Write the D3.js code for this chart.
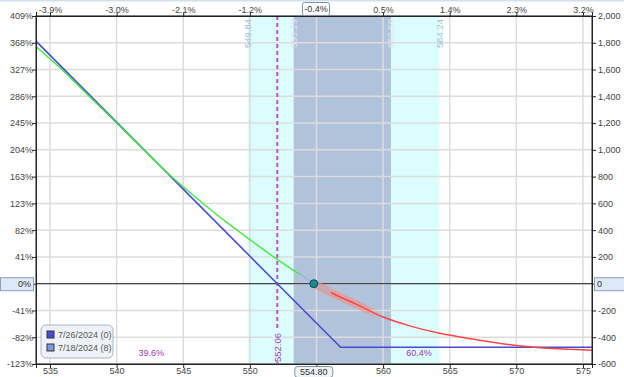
<!DOCTYPE html>
<html>
<head>
  <meta charset="utf-8">
  <script src="https://cdn.jsdelivr.net/npm/d3@7"></script>
  <title>P&amp;L chart</title>
  <style>
    body { margin: 0; background: #fff; }
    text { font-family: "Liberation Sans", Arial, sans-serif; font-size: 9px; fill: #444; }
  </style>
</head>
<body>
<svg id="chart" width="624" height="377"></svg>
<script>
// ---- data ----
var priceTicks = [535, 540, 545, 550, 555, 560, 565, 570, 575];
var pctMoveLabels = ["-3.9%", "-3.0%", "-2.1%", "-1.2%", "-0.4%", "0.5%", "1.4%", "2.3%", "3.2%"];
var pnlTicks = [-600, -400, -200, 0, 200, 400, 600, 800, 1000, 1200, 1400, 1600, 1800, 2000];
var pnlLabels = ["-600", "-400", "-200", "0", "200", "400", "600", "800", "1,000", "1,200", "1,400", "1,600", "1,800", "2,000"];
var pctLabels = ["-123%", "-82%", "-41%", "0%", "41%", "82%", "123%", "163%", "204%", "245%", "286%", "327%", "368%", "409%"];

// expiration (7/26/2024)
var expiryPrice = [533.95, 552.06, 556.81, 575.68];
var expiryPnl = [1812, 0, -475, -475];

// today (7/18/2024), left part (green) and right part (red)
var todayPrice = [533.95, 536, 538, 540, 542, 544, 546, 548, 550, 552, 553, 554, 554.8];
var todayPnl = [1772, 1590, 1395, 1200, 1004, 812, 640, 478, 330, 185, 118, 55, 0];
var rightPrice = [554.8, 556, 558, 560, 562, 564, 566, 568, 570, 572, 574, 575.68];
var rightPnl = [0, -62, -155, -249, -315, -365, -402, -434, -462, -480, -490, -497];

var currentPrice = 554.80;
var breakEven = 552.06;
var outerBand = [549.84, 564.24];
var innerBand = [553.29, 560.59];
var probLeft = "39.6%", probRight = "60.4%";
var legendItems = ["7/26/2024 (0)", "7/18/2024 (8)"];

// ---- layout ----
var L = 36, R = 592, T = 16, B = 364;
var svg = d3.select("#chart");
var x = d3.scaleLinear().domain([533.95, 575.68]).range([L, R]);
var y = d3.scaleLinear().domain([-600, 2000]).range([B, T]);

// light blue strip at top of frame
svg.append("rect").attr("x", 0).attr("y", 0).attr("width", 624).attr("height", 1.5).attr("fill", "#cfe0f0");

// bands
svg.append("rect").attr("x", x(outerBand[0])).attr("y", T)
  .attr("width", x(outerBand[1]) - x(outerBand[0])).attr("height", B - T).attr("fill", "#dcfdfd");
svg.append("rect").attr("x", x(innerBand[0])).attr("y", T)
  .attr("width", x(innerBand[1]) - x(innerBand[0])).attr("height", B - T).attr("fill", "#b1c2db");

// grid
svg.append("g").selectAll("line").data(priceTicks).join("line")
  .attr("x1", function(d) { return x(d); }).attr("x2", function(d) { return x(d); })
  .attr("y1", T).attr("y2", B).attr("stroke", "#dcdcdc").attr("stroke-width", 1.5);
svg.append("g").selectAll("line").data(pnlTicks).join("line")
  .attr("x1", L).attr("x2", R)
  .attr("y1", function(d) { return y(d); }).attr("y2", function(d) { return y(d); })
  .attr("stroke", "#dcdcdc").attr("stroke-width", 1.5);

// band labels (vertical)
var bandLabels = [
  { v: outerBand[0], c: "#9fbfd6" }, { v: innerBand[0], c: "#dbe4f2" },
  { v: innerBand[1], c: "#dbe4f2" }, { v: outerBand[1], c: "#9fbfd6" }
];
svg.append("g").selectAll("text").data(bandLabels).join("text")
  .attr("transform", function(d) { return "translate(" + (x(d.v) + 3) + "," + (T + 3) + ") rotate(-90)"; })
  .attr("text-anchor", "end").style("font-size", "9.5px")
  .style("fill", function(d) { return d.c; })
  .text(function(d) { return d.v.toFixed(2); });

// zero line
svg.append("line").attr("x1", L).attr("x2", R).attr("y1", y(0)).attr("y2", y(0))
  .attr("stroke", "#222").attr("stroke-width", 1);

// break-even dashed line
svg.append("line").attr("x1", x(breakEven)).attr("x2", x(breakEven)).attr("y1", T).attr("y2", B)
  .attr("stroke", "#b455c4").attr("stroke-width", 2).attr("stroke-dasharray", "4,3");
svg.append("rect").attr("x", x(breakEven) - 5).attr("y", 328).attr("width", 10).attr("height", 34).attr("fill", "#dcfdfd");
svg.append("text")
  .attr("transform", "translate(" + (x(breakEven) + 3.5) + "," + (B - 2) + ") rotate(-90)")
  .style("fill", "#a040b0").style("font-size", "9.5px")
  .text(breakEven.toFixed(2));

var line = d3.line().x(function(d) { return x(d[0]); }).y(function(d) { return y(d[1]); });
var todayPts = d3.zip(todayPrice, todayPnl);
var rightPts = d3.zip(rightPrice, rightPnl);
var smooth = d3.line().curve(d3.curveMonotoneX).x(function(d) { return x(d[0]); }).y(function(d) { return y(d[1]); });

// pink band near current price
var defs = svg.append("defs");
var grad = defs.append("linearGradient").attr("id", "band")
  .attr("gradientUnits", "userSpaceOnUse")
  .attr("x1", x(currentPrice)).attr("x2", x(559.8)).attr("y1", 0).attr("y2", 0);
grad.append("stop").attr("offset", "0%").attr("stop-color", "#f09080").attr("stop-opacity", 0.7);
grad.append("stop").attr("offset", "80%").attr("stop-color", "#f09080").attr("stop-opacity", 0.55);
grad.append("stop").attr("offset", "100%").attr("stop-color", "#f09080").attr("stop-opacity", 0);
svg.append("path").datum(rightPts.filter(function(d) { return d[0] <= 560; }))
  .attr("d", smooth).attr("fill", "none").attr("stroke", "url(#band)").attr("stroke-width", 8);

// expiration line
svg.append("path").datum(d3.zip(expiryPrice, expiryPnl))
  .attr("d", line).attr("fill", "none").attr("stroke", "#4b4bd2").attr("stroke-width", 1.6);

// today line, colored by region
function clipRange(id, a, b) {
  defs.append("clipPath").attr("id", id).append("rect")
    .attr("x", x(a)).attr("y", 0).attr("width", x(b) - x(a)).attr("height", 377);
}
clipRange("cg", 533.95, 553.8);
clipRange("cb", 553.8, 556.1);
clipRange("cr", 556.1, 575.68);
var allToday = todayPts.concat(rightPts.slice(1));
[["cg", "#4be84b"], ["cb", "#9fb2e6"], ["cr", "#ff4545"]].forEach(function(p) {
  svg.append("path").datum(allToday).attr("clip-path", "url(#" + p[0] + ")")
    .attr("d", smooth).attr("fill", "none").attr("stroke", p[1]).attr("stroke-width", 1.5);
});

// current point
svg.append("circle").attr("cx", x(currentPrice)).attr("cy", y(0)).attr("r", 4)
  .attr("fill", "#178a8a").attr("stroke", "#0d4d55").attr("stroke-width", 1);

// probabilities
svg.append("text").attr("x", x(542.6)).attr("y", 356).attr("text-anchor", "middle")
  .style("fill", "#a035b0").text(probLeft);
svg.append("text").attr("x", x(562.7)).attr("y", 356).attr("text-anchor", "middle")
  .style("fill", "#a035b0").text(probRight);

// frame
svg.append("rect").attr("x", L).attr("y", T).attr("width", R - L).attr("height", B - T)
  .attr("fill", "none").attr("stroke", "#222").attr("stroke-width", 1);

// axes
var axBottom = svg.append("g").attr("transform", "translate(0," + B + ")")
  .call(d3.axisBottom(x).tickValues(priceTicks).tickSize(4).tickFormat(d3.format("d")));
var axTop = svg.append("g").attr("transform", "translate(0," + T + ")")
  .call(d3.axisTop(x).tickValues(priceTicks).tickSize(4)
    .tickFormat(function(d, i) { return pctMoveLabels[i]; }));
var axLeft = svg.append("g").attr("transform", "translate(" + L + ",0)")
  .call(d3.axisLeft(y).tickValues(pnlTicks).tickSize(4)
    .tickFormat(function(d, i) { return pctLabels[i]; }));
var axRight = svg.append("g").attr("transform", "translate(" + R + ",0)")
  .call(d3.axisRight(y).tickValues(pnlTicks).tickSize(4)
    .tickFormat(function(d, i) { return pnlLabels[i]; }));
[axBottom, axTop, axLeft, axRight].forEach(function(g) {
  g.attr("font-family", null).attr("font-size", null);
  g.select(".domain").attr("stroke", "#222");
  g.selectAll(".tick line").attr("stroke", "#222");
  g.selectAll("text").style("fill", "#444");
});
axLeft.selectAll(".tick text").attr("x", -3);
axRight.selectAll(".tick text").attr("x", 6);
axTop.selectAll(".tick text").attr("y", -3);
axBottom.selectAll(".tick text").attr("y", 4);

// highlighted labels replace the plain tick labels at the current price and at zero
function boxLabel(bx, by, w, h, txt, fill, stroke, rx) {
  svg.append("rect").attr("x", bx).attr("y", by).attr("width", w).attr("height", h)
    .attr("rx", rx).attr("fill", fill).attr("stroke", stroke);
  svg.append("text").attr("x", bx + w / 2).attr("y", by + h / 2 + 3.2)
    .attr("text-anchor", "middle").style("fill", "#333").text(txt);
}
axLeft.selectAll(".tick").filter(function(d) { return d === 0; }).select("text").remove();
axRight.selectAll(".tick").filter(function(d) { return d === 0; }).select("text").remove();
axTop.selectAll(".tick").filter(function(d) { return d === 555; }).select("text").remove();
axBottom.selectAll(".tick").filter(function(d) { return d === 555; }).select("text").remove();
boxLabel(0.5, y(0) - 6, 33, 13, "", "#dde9f6", "#8aa0c0", 0);
svg.append("text").attr("x", 31).attr("y", y(0) + 3.5).attr("text-anchor", "end").style("fill", "#333").text(pctLabels[3]);
boxLabel(594.5, y(0) - 6, 30, 13, "", "#dde9f6", "#8aa0c0", 0);
svg.append("text").attr("x", 597).attr("y", y(0) + 3.5).style("fill", "#333").text(pnlLabels[3]);
boxLabel(x(555) - 14, 2.5, 27, 13, pctMoveLabels[4], "#fff", "#8090a8", 2);
boxLabel(x(currentPrice) - 19, 366.5, 38, 11, currentPrice.toFixed(2), "#f0f4f8", "#7d8da4", 3);

// legend
var lg = svg.append("g").attr("transform", "translate(41,325)");
lg.append("rect").attr("width", 72).attr("height", 33).attr("rx", 5)
  .attr("fill", "#eef2f8").attr("stroke", "#a8b4c6");
var legendColors = ["#4b4bd2", "#7d9ad8"];
lg.selectAll("g").data(legendItems).join("g")
  .attr("transform", function(d, i) { return "translate(6," + (6 + i * 13) + ")"; })
  .each(function(d, i) {
    var g = d3.select(this);
    g.append("rect").attr("width", 7).attr("height", 7).attr("fill", legendColors[i]).attr("stroke", "#334");
    g.append("text").attr("x", 11).attr("y", 7).style("fill", "#555").text(d);
  });
</script>
</body>
</html>
